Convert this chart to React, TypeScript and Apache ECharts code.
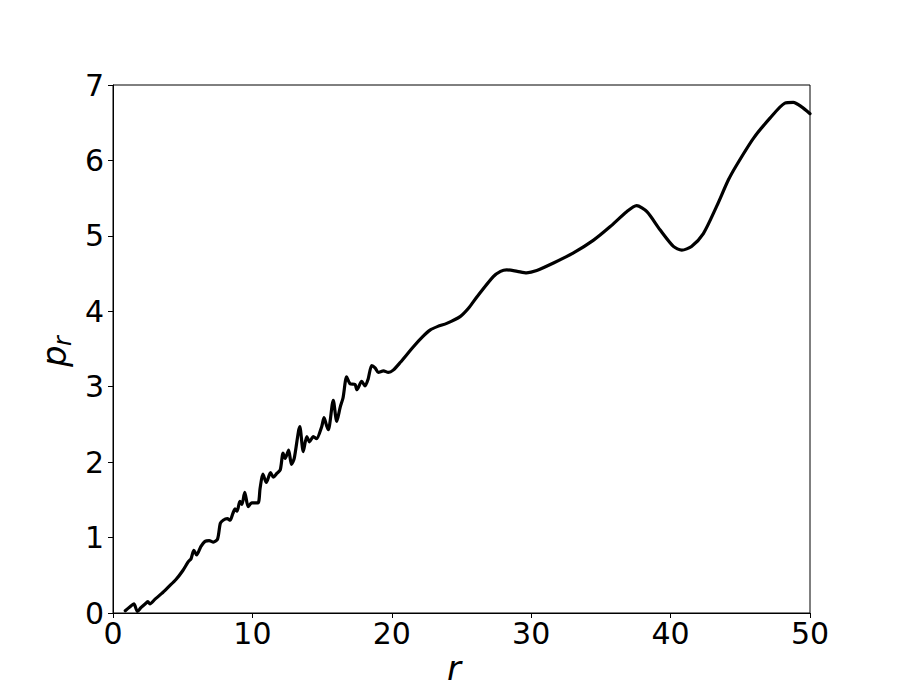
import React, { useEffect, useRef } from "react";
import * as echarts from "echarts";

const rValues = [
  0.88, 1.2, 1.5, 1.75, 2.0, 2.3, 2.5, 2.65, 3.0, 3.5, 4.0, 4.5, 5.0, 5.4, 5.6, 5.8, 6.0, 6.3, 6.6, 6.9,
  7.2, 7.5, 7.7, 7.9, 8.2, 8.4, 8.6, 8.75, 8.9, 9.1, 9.25, 9.45, 9.7, 9.95, 10.4, 10.55, 10.75, 11.0, 11.3,
  11.5, 11.75, 12.0, 12.2, 12.35, 12.6, 12.8, 13.0, 13.4, 13.65, 13.9, 14.1, 14.37, 14.6, 14.97, 15.14,
  15.33, 15.45, 15.8, 16.05, 16.3, 16.5, 16.76, 17.0, 17.36, 17.5, 17.84, 18.08, 18.3, 18.56, 18.8, 19.03,
  19.4, 19.75, 20.1, 20.6, 21.55, 22.2, 22.74, 23.3, 23.94, 24.9, 25.5, 26.1, 27.28, 27.8, 28.24, 29.0,
  29.67, 30.4, 31.6, 33.0, 34.45, 35.65, 36.85, 37.56, 38.3, 39.24, 40.2, 40.8, 41.5, 42.35, 43.3, 44.14,
  44.74, 45.93, 47.13, 48.2, 48.8, 49.4, 50.0,
];

const pValues = [
  0.03, 0.08, 0.12, 0.02, 0.07, 0.12, 0.15, 0.12, 0.18, 0.26, 0.35, 0.44, 0.56, 0.68, 0.72, 0.83, 0.77, 0.88, 0.95, 0.96,
  0.94, 0.98, 1.19, 1.23, 1.25, 1.23, 1.32, 1.38, 1.35, 1.48, 1.44, 1.6, 1.41, 1.46, 1.46, 1.65, 1.84, 1.73, 1.86,
  1.8, 1.85, 1.9, 2.12, 2.05, 2.16, 1.97, 2.05, 2.47, 2.14, 2.34, 2.27, 2.34, 2.31, 2.47, 2.59,
  2.48, 2.43, 2.82, 2.54, 2.73, 2.85, 3.13, 3.04, 3.03, 2.96, 3.07, 3.01, 3.1, 3.28, 3.25, 3.19,
  3.21, 3.19, 3.22, 3.32, 3.53, 3.66, 3.75, 3.8, 3.84, 3.93, 4.04, 4.19, 4.46, 4.53, 4.55, 4.53,
  4.51, 4.54, 4.64, 4.77, 4.94, 5.12, 5.32, 5.4, 5.32, 5.08, 4.86, 4.81, 4.86, 5.03, 5.39, 5.74,
  5.94, 6.29, 6.56, 6.76, 6.77, 6.71, 6.62,
];

const xTicks = [0, 10, 20, 30, 40, 50];
const yTicks = [0, 1, 2, 3, 4, 5, 6, 7];

const FONT = "DejaVu Sans";

export default function App() {
  const ref = useRef<HTMLDivElement>(null);

  useEffect(() => {
    if (!ref.current) return;
    const chart = echarts.init(ref.current, null, { renderer: "svg" });
    const data = rValues.map((r, i) => [r, pValues[i]]);
    chart.setOption({
      animation: false,
      backgroundColor: "#ffffff",
      textStyle: { fontFamily: FONT },
      grid: {
        left: 113,
        top: 85,
        width: 697,
        height: 528,
        show: true,
        borderColor: "#000",
        borderWidth: 1,
        backgroundColor: "transparent",
      },
      xAxis: {
        type: "value",
        min: xTicks[0],
        max: xTicks[xTicks.length - 1],
        interval: 10,
        axisLine: { show: true, lineStyle: { color: "#000", width: 1 } },
        axisTick: { show: true, inside: false, length: 5, lineStyle: { color: "#000", width: 1 } },
        axisLabel: { color: "#000", fontSize: 30, fontFamily: FONT, margin: 5 },
        splitLine: { show: false },
      },
      yAxis: {
        type: "value",
        min: yTicks[0],
        max: yTicks[yTicks.length - 1],
        interval: 1,
        axisLine: { show: true, lineStyle: { color: "#000", width: 1 } },
        axisTick: { show: true, inside: false, length: 5, lineStyle: { color: "#000", width: 1 } },
        axisLabel: { color: "#000", fontSize: 30, fontFamily: FONT, margin: 9 },
        splitLine: { show: false },
      },
      graphic: [
        {
          type: "text",
          left: 447,
          top: 651,
          style: {
            text: "r",
            font: `italic 34px ${FONT}`,
            fill: "#000",
          },
        },
        {
          type: "group",
          x: 54,
          y: 367,
          rotation: Math.PI / 2,
          children: [
            {
              type: "text",
              x: 0,
              y: 0,
              style: {
                text: "p",
                font: `italic 34px ${FONT}`,
                fill: "#000",
                textAlign: "left",
                textVerticalAlign: "middle",
              },
            },
            {
              type: "text",
              x: 21,
              y: 9,
              style: {
                text: "r",
                font: `italic 24px ${FONT}`,
                fill: "#000",
                textAlign: "left",
                textVerticalAlign: "middle",
              },
            },
          ],
        },
      ],
      series: [
        {
          type: "line",
          data,
          showSymbol: false,
          smooth: 0.25,
          lineStyle: { color: "#000", width: 3.2, join: "round", cap: "round" },
          clip: true,
        },
      ],
    });
    return () => chart.dispose();
  }, []);

  return (
    <div
      ref={ref}
      style={{ position: "absolute", left: 0, top: 0, width: 900, height: 700, background: "#fff" }}
    />
  );
}
